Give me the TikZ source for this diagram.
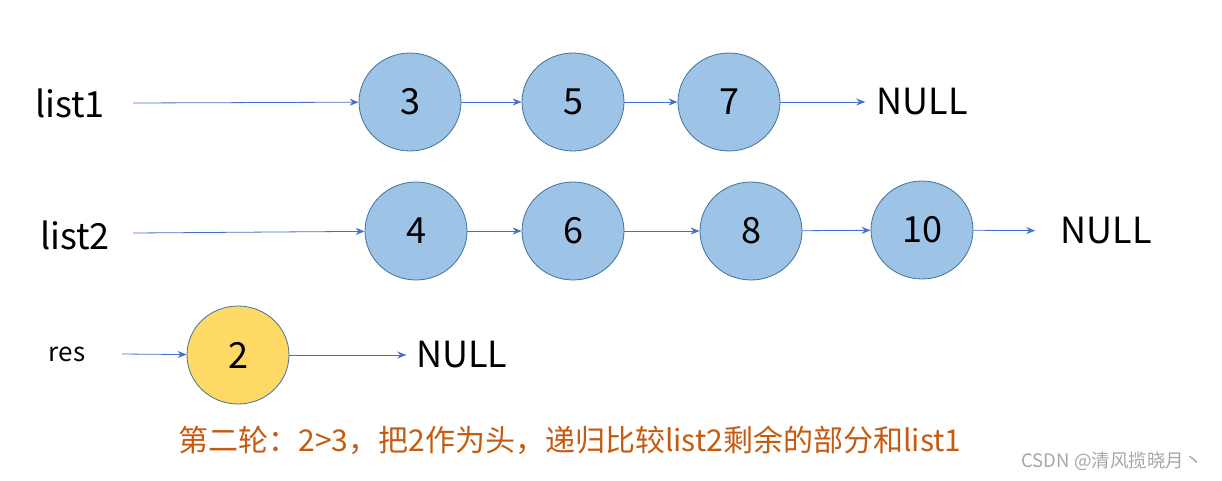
\documentclass[tikz,border=0pt]{standalone}
\usepackage{fontspec}
\setmainfont{Noto Sans CJK SC}
\usepackage{xcolor}
\usepackage{tikz}
\usetikzlibrary{positioning,shapes.geometric,arrows.meta}

\definecolor{nodefill}{HTML}{9DC3E6}
\definecolor{nodeline}{HTML}{41719C}
\definecolor{headfill}{HTML}{FFD966}
\definecolor{arrowblue}{HTML}{4472C4}
\definecolor{notecolor}{HTML}{C55A11}

\tikzset{
	listnode/.style={ellipse, draw=nodeline, fill=nodefill, line width=0.8pt,
		minimum width=102pt, minimum height=98pt, inner sep=0pt,
		font=\fontsize{36}{40}\selectfont},
	headnode/.style={listnode, fill=headfill},
	nulltext/.style={inner sep=0pt, font=\fontsize{36}{40}\selectfont},
	nametext/.style={inner sep=0pt, font=\fontsize{36}{40}\selectfont},
	link/.style={draw=arrowblue, line width=0.8pt, -{Stealth[length=9pt,width=7pt]}}
}

\begin{document}
\begin{tikzpicture}[x=1pt,y=-1pt]
	\useasboundingbox (0,0) rectangle (1222,480);
	\node[nametext] (list1) at (70,103) {list1};
	\node[nametext] (list2) at (75,235) {list2};
	\node[nametext, font=\fontsize{26}{30}\selectfont] (res) at (67,354) {res};
	\coordinate (s1) at (133,103);
	\coordinate (s2) at (133,233);
	\coordinate (s3) at (122,354);
	\node[listnode] (n3) at (410,102) {3};
	\node[listnode] (n5) at (573,102) {5};
	\node[listnode] (n7) at (729,102) {7};
	\node[nulltext] (null1) at (922,102) {NULL};
	\node[listnode] (n4) at (416,231) {4};
	\node[listnode] (n6) at (573,231) {6};
	\node[listnode] (n8) at (751,231) {8};
	\node[listnode] (n10) at (922,230) {10};
	\node[nulltext] (null2) at (1106,231) {NULL};
	\node[headnode] (n2) at (238,355) {2};
	\node[nulltext] (null3) at (462,355) {NULL};
	\node[inner sep=0pt, text=notecolor, font=\fontsize{30}{34}\selectfont] (note) at (570,440) {第二轮：2>3，把2作为头，递归比较list2剩余的部分和list1};
	\node[inner sep=0pt, text=gray!70, font=\fontsize{18.5}{22}\selectfont] (mark) at (1112,461) {CSDN @清风揽晓月丶};
	\draw[link] (s1) -- (n3);
	\draw[link] (n3) -- (n5);
	\draw[link] (n5) -- (n7);
	\draw[link, shorten >=11pt] (n7) -- (null1);
	\draw[link] (s2) -- (n4);
	\draw[link] (n4) -- (n6);
	\draw[link] (n6) -- (n8);
	\draw[link] (n8) -- (n10);
	\draw[link, shorten >=25pt] (n10) -- (null2);
	\draw[link] (s3) -- (n2);
	\draw[link, shorten >=10pt] (n2) -- (null3);
\end{tikzpicture}
\end{document}
